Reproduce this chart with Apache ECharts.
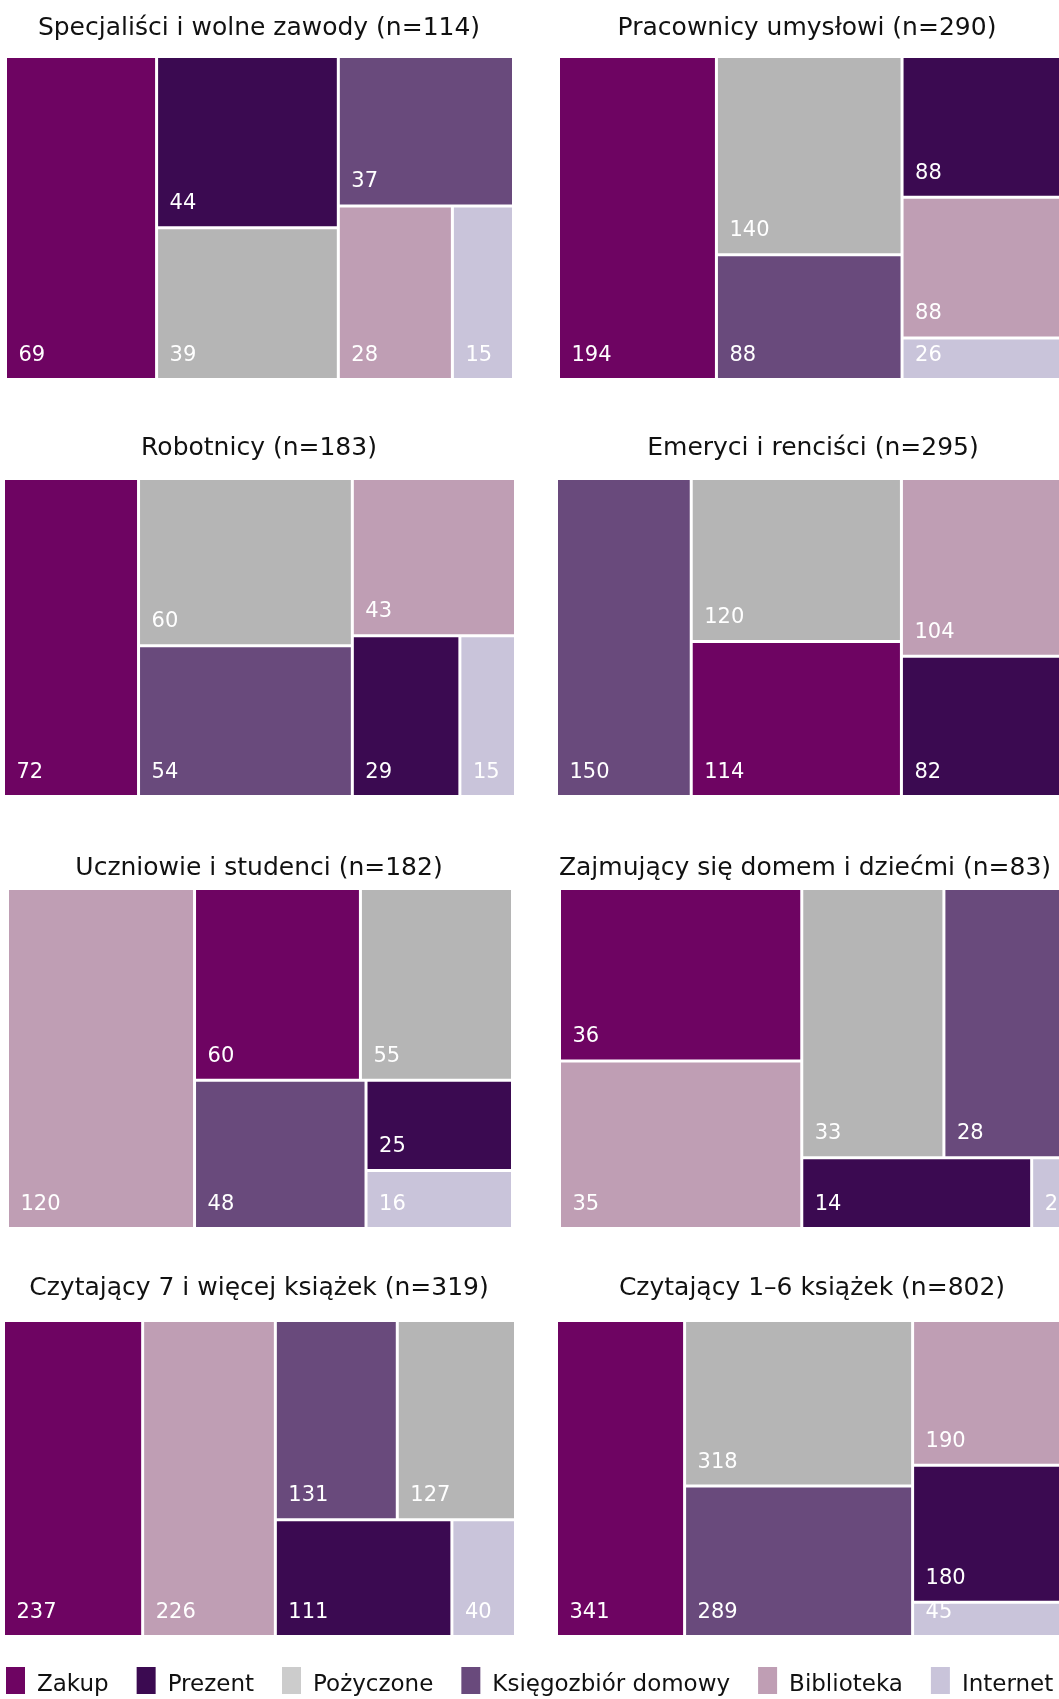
<!DOCTYPE html>
<html>
<head>
<meta charset="utf-8">
<title>Skąd pochodzą czytane książki</title>
<script src="https://cdn.jsdelivr.net/npm/echarts@6/dist/echarts.min.js"></script>
<style>
  html, body { margin: 0; padding: 0; background: #fff; overflow: hidden; }
  #chart { width: 1059px; height: 1699px; }
</style>
</head>
<body>
<div id="chart"></div>
<script>
// kategorie z legendy
const categories = ['Zakup', 'Prezent', 'Pożyczone', 'Księgozbiór domowy', 'Biblioteka', 'Internet']

// liczba wskazań w każdej grupie, w kolejności kafelków
const specjalisci = [['Zakup', 69], ['Prezent', 44], ['Pożyczone', 39], ['Księgozbiór domowy', 37], ['Biblioteka', 28], ['Internet', 15]]
const pracownicy = [['Zakup', 194], ['Pożyczone', 140], ['Księgozbiór domowy', 88], ['Prezent', 88], ['Biblioteka', 88], ['Internet', 26]]
const robotnicy = [['Zakup', 72], ['Pożyczone', 60], ['Księgozbiór domowy', 54], ['Biblioteka', 43], ['Prezent', 29], ['Internet', 15]]
const emeryci = [['Księgozbiór domowy', 150], ['Pożyczone', 120], ['Zakup', 114], ['Biblioteka', 104], ['Prezent', 82]]
const uczniowie = [['Biblioteka', 120], ['Zakup', 60], ['Pożyczone', 55], ['Księgozbiór domowy', 48], ['Prezent', 25], ['Internet', 16]]
const zajmujacy = [['Zakup', 36], ['Biblioteka', 35], ['Pożyczone', 33], ['Księgozbiór domowy', 28], ['Prezent', 14], ['Internet', 2]]
const czytajacy7 = [['Zakup', 237], ['Biblioteka', 226], ['Księgozbiór domowy', 131], ['Pożyczone', 127], ['Prezent', 111], ['Internet', 40]]
const czytajacy16 = [['Zakup', 341], ['Pożyczone', 318], ['Księgozbiór domowy', 289], ['Biblioteka', 190], ['Prezent', 180], ['Internet', 45]]

const panelTitles = [
  'Specjaliści i wolne zawody (n=114)', 'Pracownicy umysłowi (n=290)',
  'Robotnicy (n=183)', 'Emeryci i renciści (n=295)',
  'Uczniowie i studenci (n=182)', 'Zajmujący się domem i dziećmi (n=83)',
  'Czytający 7 i więcej książek (n=319)', 'Czytający 1–6 książek (n=802)'
]
const panelData = [specjalisci, pracownicy, robotnicy, emeryci, uczniowie, zajmujacy, czytajacy7, czytajacy16]

// wygląd
const FONT = 'DejaVu Sans'
const cellColors = ['#6e0462', '#3b0a51', '#b5b5b5', '#694a7c', '#bf9eb4', '#c9c4da']
const legendColors = ['#6e0462', '#3b0a51', '#cccccc', '#694a7c', '#bf9eb4', '#c9c4da']

// [left, top, width, height] każdego panelu
const panelBoxes = [
  [7, 58, 505, 320], [560, 58, 505, 320],
  [5, 480, 509, 315], [558, 480, 509, 315],
  [9, 890, 502, 337], [561, 890, 502, 337],
  [5, 1322, 509, 313], [558, 1322, 509, 313]
]
// proporcje kafelków (squarify) dla każdego panelu
const squareRatios = [0.8, 0.85, 0.78, 0.78, 0.8, 1.25, 0.857, 0.783]
const titleCenters = [259, 807, 259, 813, 259, 805, 259, 812]
const titleTops = [16, 16, 436, 436, 856, 856, 1276, 1276]

const chart = echarts.init(document.getElementById('chart'), null, { renderer: 'canvas' })

const colorOf = name => cellColors[categories.indexOf(name)]

const titles = panelTitles.map((text, i) => ({
  text: text,
  left: titleCenters[i],
  top: titleTops[i],
  textAlign: 'center',
  textVerticalAlign: 'top',
  padding: 0,
  textStyle: { fontFamily: FONT, fontSize: 25, fontWeight: 'normal', color: '#111111' }
}))

const treemaps = panelData.map((items, i) => {
  const [left, top, width, height] = panelBoxes[i]
  return {
    type: 'treemap',
    name: panelTitles[i],
    left: left,
    top: top,
    width: width,
    height: height,
    squareRatio: squareRatios[i],
    sort: false,
    roam: false,
    nodeClick: false,
    silent: true,
    animation: false,
    breadcrumb: { show: false },
    itemStyle: { gapWidth: 3, borderWidth: 0, borderColor: '#ffffff' },
    upperLabel: { show: false },
    label: {
      show: true,
      position: 'insideBottomLeft',
      distance: 8,
      offset: [-1.5, 1],
      formatter: '{c}',
      color: '#ffffff',
      fontFamily: FONT,
      fontSize: 21
    },
    data: items.map(([name, value]) => ({
      name: name,
      value: value,
      itemStyle: { color: colorOf(name) }
    }))
  }
})

// puste serie tylko po to, żeby legenda miała swoje pozycje
const legendSeries = categories.map(name => ({
  type: 'pie',
  name: name,
  data: [],
  showEmptyCircle: false,
  silent: true
}))

chart.setOption({
  backgroundColor: '#ffffff',
  animation: false,
  title: titles,
  legend: {
    left: 6,
    top: 1667,
    width: 1400,
    padding: 0,
    // prostokąt 19x27 u góry pola 19x37, żeby tekst siedział niżej niż środek ikony
    icon: 'path://M0,0H19V27H0Z M0,37',
    itemWidth: 19,
    itemHeight: 37,
    itemGap: 28,
    selectedMode: false,
    textStyle: { fontFamily: FONT, fontSize: 23, color: '#111111', padding: [0, 0, 0, 7] },
    data: categories.map((name, i) => ({ name: name, itemStyle: { color: legendColors[i] } }))
  },
  series: treemaps.concat(legendSeries)
})
</script>
</body>
</html>
